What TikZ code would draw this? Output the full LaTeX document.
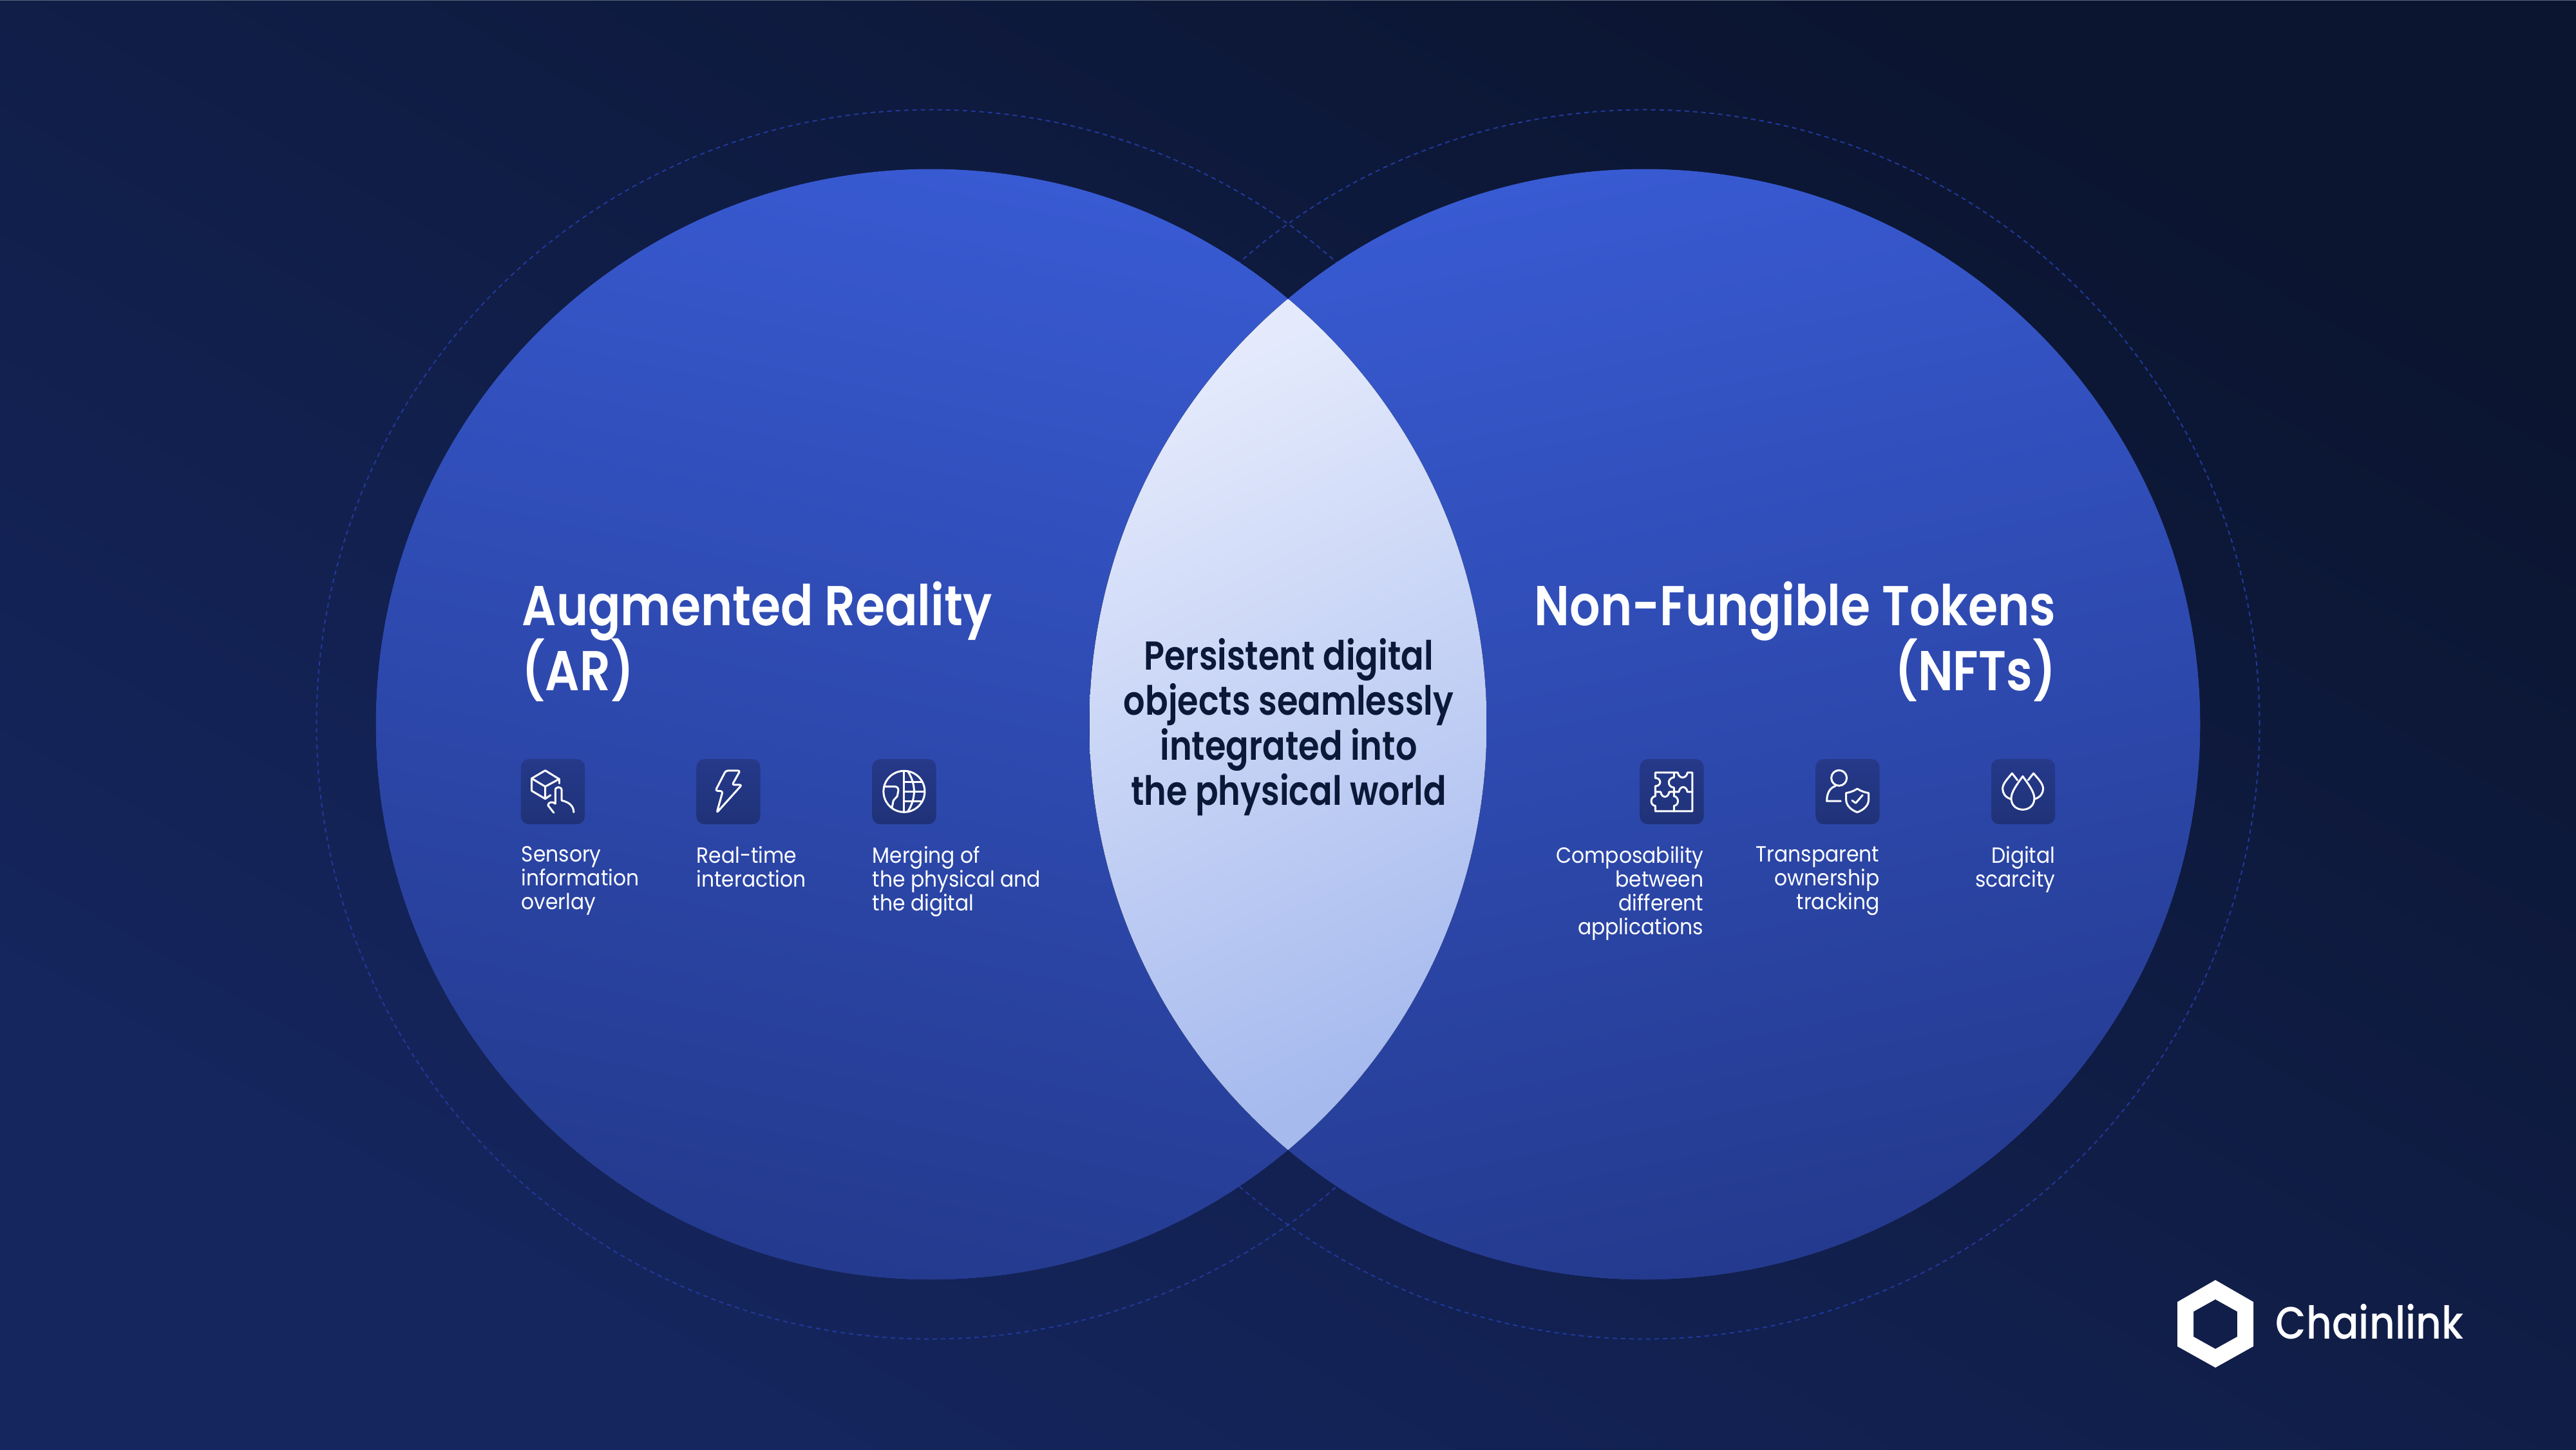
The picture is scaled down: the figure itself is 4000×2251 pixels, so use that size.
\documentclass[tikz,border=0pt]{standalone}
\usepackage{xcolor}
\usepackage{fontspec}
\setmainfont{Poppins}
\newfontfamily\fhead[FakeStretch=0.855]{Poppins SemiBold}
\newfontfamily\flens[FakeStretch=0.84]{Poppins SemiBold}
\newfontfamily\fmid[FakeStretch=0.875]{Poppins Medium}
\newfontfamily\fbody[FakeStretch=0.92]{Poppins}
\definecolor{bgdark}{HTML}{0B1530}
\definecolor{bglight}{HTML}{15265F}
\definecolor{edgegray}{HTML}{5A6478}
\definecolor{ringblue}{HTML}{21399A}
\definecolor{disctop}{HTML}{385AD2}
\definecolor{discbot}{HTML}{243A8E}
\definecolor{lenstop}{HTML}{E4EAFC}
\definecolor{lensbot}{HTML}{A6BAEE}
\definecolor{tiletop}{HTML}{26398A}
\definecolor{tilebot}{HTML}{1F3278}
\definecolor{inknavy}{HTML}{0C1838}
\begin{document}
\begin{tikzpicture}[x=0.01cm, y=-0.01cm,
    ring/.style={draw=ringblue, line width=0.02cm, dash pattern=on 0.07cm off 0.06cm},
    disc/.style={top color=disctop, bottom color=discbot},
    tile/.style={rectangle, rounded corners=0.12cm, minimum width=0.99cm, minimum height=1.01cm, inner sep=0pt, top color=tiletop, bottom color=tilebot},
    icon/.style={draw=white, line width=0.03cm, line cap=round, line join=round},
    head/.style={text=white, inner sep=0pt, font=\fontsize{24.8}{28.7}\fhead, execute at begin node={\lineskiplimit=-20pt\rule{0pt}{20pt}}},
    lab/.style={text=white, inner sep=0pt, font=\fontsize{9.7}{10.5}\fbody, execute at begin node={\rule{0pt}{8pt}}}]
    \useasboundingbox (0,0) rectangle (4000,2251);
    \fill[top color=bgdark, bottom color=bglight, shading angle=-30] (0,0) rectangle (4000,2251);
    \fill[edgegray] (0,0) rectangle (4000,1.2);

    \draw[ring] (1446,1125) circle (9.54cm);
    \draw[ring] (2554,1125) circle (9.54cm);
    \fill[disc, shading angle=-12] (1446,1125) circle (8.62cm);
    \fill[disc, shading angle=12] (2554,1125) circle (8.62cm);
    \begin{scope}
        \clip (1446,1125) circle (8.62cm);
        \clip (2554,1125) circle (8.62cm);
        \fill[top color=lenstop, bottom color=lensbot, shading angle=25] (1692,465) rectangle (2308,1785);
    \end{scope}

    \node[head, anchor=north west, align=left] (headar) at (810,902) {Augmented Reality\\(AR)};
    \node[head, anchor=north east, align=right] (headnft) at (3193,902) {Non-Fungible Tokens\\(NFTs)};
    \node[text=inknavy, inner sep=0pt, align=center, font=\fontsize{17.8}{19.9}\flens] (lenstext) at (2001,1129)
        {Persistent digital\\objects seamlessly\\integrated into\\the physical world};

    \node[tile] (tilea) at (858.5,1229.5) {};
    \node[tile] (tileb) at (1131,1229.5) {};
    \node[tile] (tilec) at (1404,1229.5) {};
    \node[tile] (tiled) at (2596,1229.5) {};
    \node[tile] (tilee) at (2869,1229.5) {};
    \node[tile] (tilef) at (3141.5,1229.5) {};

    \node[lab, anchor=north west, align=left] (laba) at (809,1314) {Sensory\\information\\overlay};
    \node[lab, anchor=north west, align=left] (labb) at (1081,1314) {Real-time\\interaction};
    \node[lab, anchor=north west, align=left] (labc) at (1354,1314) {Merging of\\the physical and\\the digital};
    \node[lab, anchor=north east, align=right] (labd) at (2646,1314) {Composability\\between\\different\\applications};
    \node[lab, anchor=north east, align=right] (labe) at (2919,1314) {Transparent\\ownership\\tracking};
    \node[lab, anchor=north east, align=right] (labf) at (3192,1314) {Digital\\scarcity};

    \begin{scope}[shift={(805,1175)}, x=0.00333cm, y=-0.00333cm]
        \draw[icon] (125,65) -- (190,105) -- (125,140) -- (62,102) -- cycle;
        \draw[icon] (62,102) -- (62,160) -- (125,197) -- (125,140);
        \draw[icon] (190,105) -- (190,125);
        \draw[icon] (125,197) -- (150,180);
        \draw[icon] (172,220) -- (172,158) .. controls (172,138) and (202,138) .. (202,158) -- (202,205) .. controls (235,212) and (258,230) .. (258,260);
        \draw[icon] (172,220) .. controls (160,208) and (138,212) .. (138,228) -- (165,262);
    \end{scope}

    \begin{scope}[shift={(1081,1175)}, x=0.00333cm, y=-0.00333cm]
        \draw[icon, rounded corners=0.03cm] (138,66) -- (205,66) -- (168,132) -- (213,132) -- (96,262) -- (124,162) -- (90,159) -- cycle;
    \end{scope}

    \begin{scope}[shift={(1350,1175)}, x=0.00333cm, y=-0.00333cm]
        \draw[icon] (162,163) circle (0.32cm);
        \draw[icon] (162,68) -- (162,258);
        \draw[icon] (180,70) .. controls (218,130) and (218,195) .. (180,255);
        \draw[icon] (162,120) -- (245,120);
        \draw[icon] (162,165) -- (255,165);
        \draw[icon] (162,208) -- (240,208);
        \draw[icon] (68,140) -- (118,140) .. controls (130,140) and (135,148) .. (135,158) -- (130,185) -- (112,205) -- (105,240);
    \end{scope}

    \begin{scope}[shift={(2542,1175)}, x=0.00333cm, y=-0.00333cm]
        \draw[icon] (85,100) -- (85,75) -- (190,75) .. controls (195,105) and (230,105) .. (235,75) -- (258,75) -- (258,255) -- (85,255) -- (85,230)
            .. controls (60,228) and (60,188) .. (85,185) -- (85,165);
        \draw[icon] (85,100) .. controls (115,100) and (115,138) .. (85,138) -- (85,165) -- (110,165) .. controls (115,195) and (145,195) .. (150,165) -- (195,165)
            .. controls (200,135) and (230,135) .. (235,165) -- (258,165);
        \draw[icon] (172,75) -- (172,97) .. controls (140,100) and (140,142) .. (172,145) -- (172,185) .. controls (197,188) and (197,228) .. (172,230) -- (172,255);
    \end{scope}

    \begin{scope}[shift={(2815,1175)}, x=0.00333cm, y=-0.00333cm]
        \draw[icon] (122,100) circle (0.12cm);
        \draw[icon] (105,138) .. controls (80,145) and (65,170) .. (65,208) -- (130,208);
        \draw[icon] (207,150) .. controls (225,162) and (245,168) .. (260,170) -- (260,200) .. controls (260,230) and (235,250) .. (207,260)
            .. controls (180,250) and (155,230) .. (155,200) -- (155,170) .. controls (170,168) and (190,162) .. (207,150);
        \draw[icon] (183,205) -- (200,217) -- (232,180);
    \end{scope}

    \begin{scope}[shift={(3087,1175)}, x=0.00333cm, y=-0.00333cm]
        \draw[icon] (162,92) .. controls (135,130) and (108,165) .. (108,195) .. controls (108,265) and (216,265) .. (216,195) .. controls (216,165) and (189,130) .. cycle;
        \draw[icon] (105,198) .. controls (80,190) and (68,170) .. (68,150) .. controls (68,125) and (95,100) .. (112,78) -- (137,110);
        \draw[icon] (218,198) .. controls (245,190) and (257,170) .. (257,150) .. controls (257,125) and (230,100) .. (212,78) -- (187,110);
    \end{scope}

    \fill[white, even odd rule] (3440,1988) -- (3499,2022) -- (3499,2091) -- (3440,2124) -- (3381,2091) -- (3381,2022) -- cycle
        (3440,2018) -- (3474,2037) -- (3474,2076) -- (3440,2095) -- (3406,2076) -- (3406,2037) -- cycle;
    \node[text=white, inner sep=0pt, anchor=base west, font=\fontsize{20}{24}\fmid] (logotext) at (3533,2079) {Chainlink};
\end{tikzpicture}
\end{document}
